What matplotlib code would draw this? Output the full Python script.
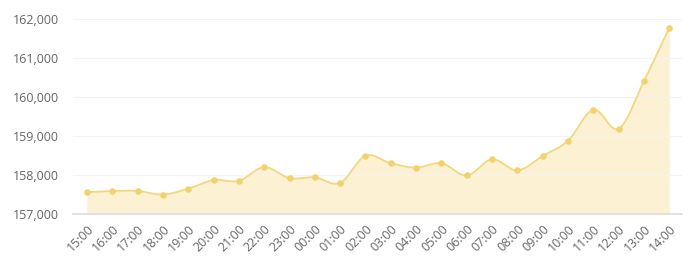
import numpy as np
import matplotlib
matplotlib.use("Agg")
import matplotlib.pyplot as plt
from matplotlib.ticker import FuncFormatter

hours = ["15:00", "16:00", "17:00", "18:00", "19:00", "20:00", "21:00", "22:00",
         "23:00", "00:00", "01:00", "02:00", "03:00", "04:00", "05:00", "06:00",
         "07:00", "08:00", "09:00", "10:00", "11:00", "12:00", "13:00", "14:00"]
values = [157560, 157590, 157590, 157500, 157650, 157870, 157850, 158200,
          157920, 157940, 157800, 158490, 158300, 158190, 158300, 157990,
          158400, 158120, 158490, 158880, 159670, 159190, 160410, 161780]
y_ticks = [157000, 158000, 159000, 160000, 161000, 162000]

LINE = "#f3d77e"
FILL = "#fdf1d4"
DOT = "#f1d26c"


def smooth_curve(x, y, k=0.35, n=20):
    # cardinal-style bezier through the points
    x = np.asarray(x, float)
    y = np.asarray(y, float)
    xs, ys = [], []
    for i in range(len(x) - 1):
        p0 = np.array([x[max(i - 1, 0)], y[max(i - 1, 0)]])
        p1 = np.array([x[i], y[i]])
        p2 = np.array([x[i + 1], y[i + 1]])
        p3 = np.array([x[min(i + 2, len(x) - 1)], y[min(i + 2, len(x) - 1)]])
        c1 = p1 + (p2 - p0) * k / 2
        c2 = p2 - (p3 - p1) * k / 2
        t = np.linspace(0, 1, n)[:, None]
        pts = ((1 - t) ** 3) * p1 + 3 * ((1 - t) ** 2) * t * c1 + 3 * (1 - t) * t ** 2 * c2 + t ** 3 * p2
        xs.extend(pts[:, 0])
        ys.extend(pts[:, 1])
    return np.array(xs), np.array(ys)


fig = plt.figure(figsize=(6.92, 2.71), dpi=100)
ax = fig.add_axes([73 / 692, 1 - 214 / 271, (682 - 73) / 692, (214 - 19) / 271])

x = np.arange(len(hours))
sx, sy = smooth_curve(x, values)
ax.fill_between(sx, sy, y_ticks[0], color=FILL, lw=0, zorder=1)
ax.plot(sx, sy, color=LINE, lw=1.3, zorder=2)
ax.scatter(x, values, s=22, color=DOT, zorder=3, linewidths=0)

ax.set_xlim(-0.55, len(hours) - 0.5)
ax.set_ylim(y_ticks[0], y_ticks[-1])
ax.set_yticks(y_ticks)
ax.yaxis.set_major_formatter(FuncFormatter(lambda v, p: f"{int(v):,}"))
ax.set_xticks(x)
ax.set_xticklabels(hours, rotation=45, ha="right", rotation_mode="anchor")

ax.grid(axis="y", color="#f3f3f3", lw=0.8, zorder=0)
for s in ["top", "right", "left"]:
    ax.spines[s].set_visible(False)
ax.spines["bottom"].set_color("#dddddd")
ax.spines["bottom"].set_linewidth(1.2)
ax.tick_params(axis="both", length=0, colors="#666666", labelsize=9)
ax.tick_params(axis="y", pad=10)
ax.tick_params(axis="x", pad=6)
for lbl in ax.get_xticklabels() + ax.get_yticklabels():
    lbl.set_fontfamily("Open Sans")

fig.savefig("out.png", dpi=100)
